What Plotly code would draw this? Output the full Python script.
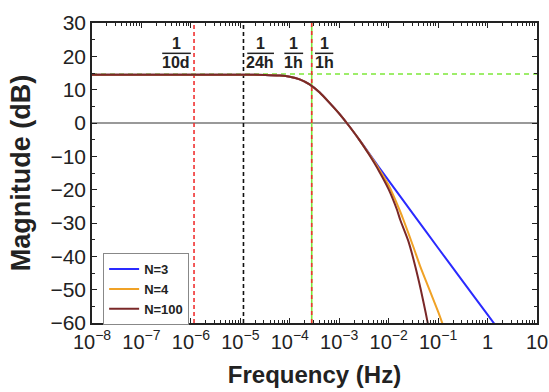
import plotly.graph_objects as go

# ---- data (log10 of frequency in Hz, magnitude in dB) ----
shared_logf = [-8, -6, -5, -4.5, -4.2, -4.0, -3.8, -3.6, -3.4, -3.2, -3.0, -2.8, -2.6]
shared_db = [14.5, 14.5, 14.48, 14.43, 14.23, 13.88, 13.1, 11.6, 9.2, 6.1, 2.8, -0.9, -4.9]

n3_logf = [-2.4, -2.2, -2.0, -1.5, -1.0, -0.5, 0.0, 0.2]
n3_db = [-9.0, -13.2, -17.3, -27.4, -37.5, -47.5, -57.5, -61.5]

n4_logf = [-2.4, -2.2, -2.0, -1.78, -1.7, -1.5, -1.36, -1.2, -1.0, -0.88]
n4_db = [-9.2, -13.7, -18.7, -26.1, -29.1, -37.2, -43.1, -49.1, -56.6, -61.5]

n100_logf = [-2.4, -2.2, -2.0, -1.83, -1.765, -1.6, -1.46, -1.35, -1.25, -1.19]
n100_db = [-9.4, -14.3, -19.9, -26.1, -29.1, -35.5, -43.1, -50.0, -57.0, -61.5]

series_names = ["N=3", "N=4", "N=100"]
series_colors = ["#2a2aff", "#f0a226", "#7a2828"]

# marker frequencies (Hz): 1/10d, 1/24h, 1/1h
f_10d = 1 / (10 * 24 * 3600)
f_24h = 1 / (24 * 3600)
f_1h = 1 / 3600
plateau_db = 14.7

x_tickvals = [1e-8, 1e-7, 1e-6, 1e-5, 1e-4, 1e-3, 1e-2, 1e-1, 1, 10]
x_ticktext = ["10<sup>−8</sup>", "10<sup>−7</sup>", "10<sup>−6</sup>", "10<sup>−5</sup>",
              "10<sup>−4</sup>", "10<sup>−3</sup>", "10<sup>−2</sup>", "10<sup>−1</sup>",
              "1", "10"]
y_tickvals = [-60, -50, -40, -30, -20, -10, 0, 10, 20, 30]

# fraction labels: (numerator, denominator, log10 centre, log10 bar start, log10 bar end)
fractions = [
    ("1", "10d", -6.30, -6.58, -6.00),
    ("1", "24h", -4.60, -4.86, -4.32),
    ("1", "1h", -3.92, -4.11, -3.73),
    ("1", "1h", -3.30, -3.49, -3.12),
]

FONT = "Liberation Sans, Arial, sans-serif"

fig = go.Figure()

ymin, ymax = -60, 30

# green dashed plateau line
fig.add_trace(go.Scatter(x=[1e-8, 10], y=[plateau_db, plateau_db], mode="lines",
                         line=dict(color="#7ee83a", width=1.6, dash="5px,4px"),
                         showlegend=False, hoverinfo="skip"))
# vertical marker lines
fig.add_trace(go.Scatter(x=[f_10d, f_10d], y=[ymin, ymax], mode="lines",
                         line=dict(color="#f03232", width=1.6, dash="4px,3px"),
                         showlegend=False, hoverinfo="skip"))
fig.add_trace(go.Scatter(x=[f_24h, f_24h], y=[ymin, ymax], mode="lines",
                         line=dict(color="#111111", width=1.6, dash="4px,3px"),
                         showlegend=False, hoverinfo="skip"))
fig.add_trace(go.Scatter(x=[f_1h, f_1h], y=[ymin, ymax], mode="lines",
                         line=dict(color="#7ee83a", width=1.6),
                         showlegend=False, hoverinfo="skip"))
fig.add_trace(go.Scatter(x=[f_1h, f_1h], y=[ymin, ymax], mode="lines",
                         line=dict(color="#f03232", width=1.6, dash="4px,4px"),
                         showlegend=False, hoverinfo="skip"))

# fraction bars
for num, den, c, b0, b1 in fractions:
    fig.add_trace(go.Scatter(x=[10 ** b0, 10 ** b1], y=[20.9, 20.9], mode="lines",
                             line=dict(color="#222222", width=1.5),
                             showlegend=False, hoverinfo="skip"))

series = [(n3_logf, n3_db), (n4_logf, n4_db), (n100_logf, n100_db)]
for (lf, db), name, col in zip(series, series_names, series_colors):
    xs = [10 ** v for v in shared_logf + lf]
    ys = shared_db + db
    fig.add_trace(go.Scatter(x=xs, y=ys, mode="lines", name="<b>%s</b>" % name,
                             line=dict(color=col, width=2, shape="spline", smoothing=0.6)))

annotations = []
for num, den, c, b0, b1 in fractions:
    annotations.append(dict(x=c, y=24.0, xref="x", yref="y", text="<b>%s</b>" % num,
                            showarrow=False, font=dict(size=16, color="#222", family=FONT)))
    annotations.append(dict(x=c, y=18.1, xref="x", yref="y", text="<b>%s</b>" % den,
                            showarrow=False, font=dict(size=16, color="#222", family=FONT)))

fig.update_layout(
    width=549, height=392,
    margin=dict(l=92, r=12, t=23, b=69),
    paper_bgcolor="white", plot_bgcolor="white",
    font=dict(family=FONT, color="#222", size=20),
    showlegend=True,
    legend=dict(x=0.025, y=0.233, xanchor="left", yanchor="top",
                bgcolor="white", bordercolor="#888", borderwidth=1,
                font=dict(size=13, family=FONT, color="#222"),
                tracegroupgap=0, itemwidth=30),
    annotations=annotations,
)

fig.update_xaxes(
    type="log", range=[-8, 1], automargin=False,
    tickvals=x_tickvals, ticktext=x_ticktext, tickangle=0,
    showgrid=False, zeroline=False,
    showline=True, linecolor="#222", linewidth=1.5, mirror="ticks",
    ticks="inside", ticklen=5, tickcolor="#222",
    minor=dict(ticks="inside", ticklen=3, dtick="D1", tickcolor="#222", showgrid=False),
    tickfont=dict(size=20),
    title=dict(text="<b>Frequency (Hz)</b>", font=dict(size=24), standoff=14),
)
fig.update_yaxes(
    range=[ymin, ymax], tickvals=y_tickvals, automargin=False,
    showgrid=False, zeroline=True, zerolinecolor="#999", zerolinewidth=1.5,
    showline=True, linecolor="#222", linewidth=1.5, mirror="ticks",
    ticks="inside", ticklen=5, tickcolor="#222",
    minor=dict(ticks="inside", ticklen=3, dtick=5, tickcolor="#222", showgrid=False),
    tickfont=dict(size=21),
    title=dict(text="<b>Magnitude (dB)</b>", font=dict(size=27), standoff=12),
)

fig.write_html("out.html", config={"displayModeBar": False},
               post_script="document.body.style.margin='0';document.body.style.overflow='hidden';")
